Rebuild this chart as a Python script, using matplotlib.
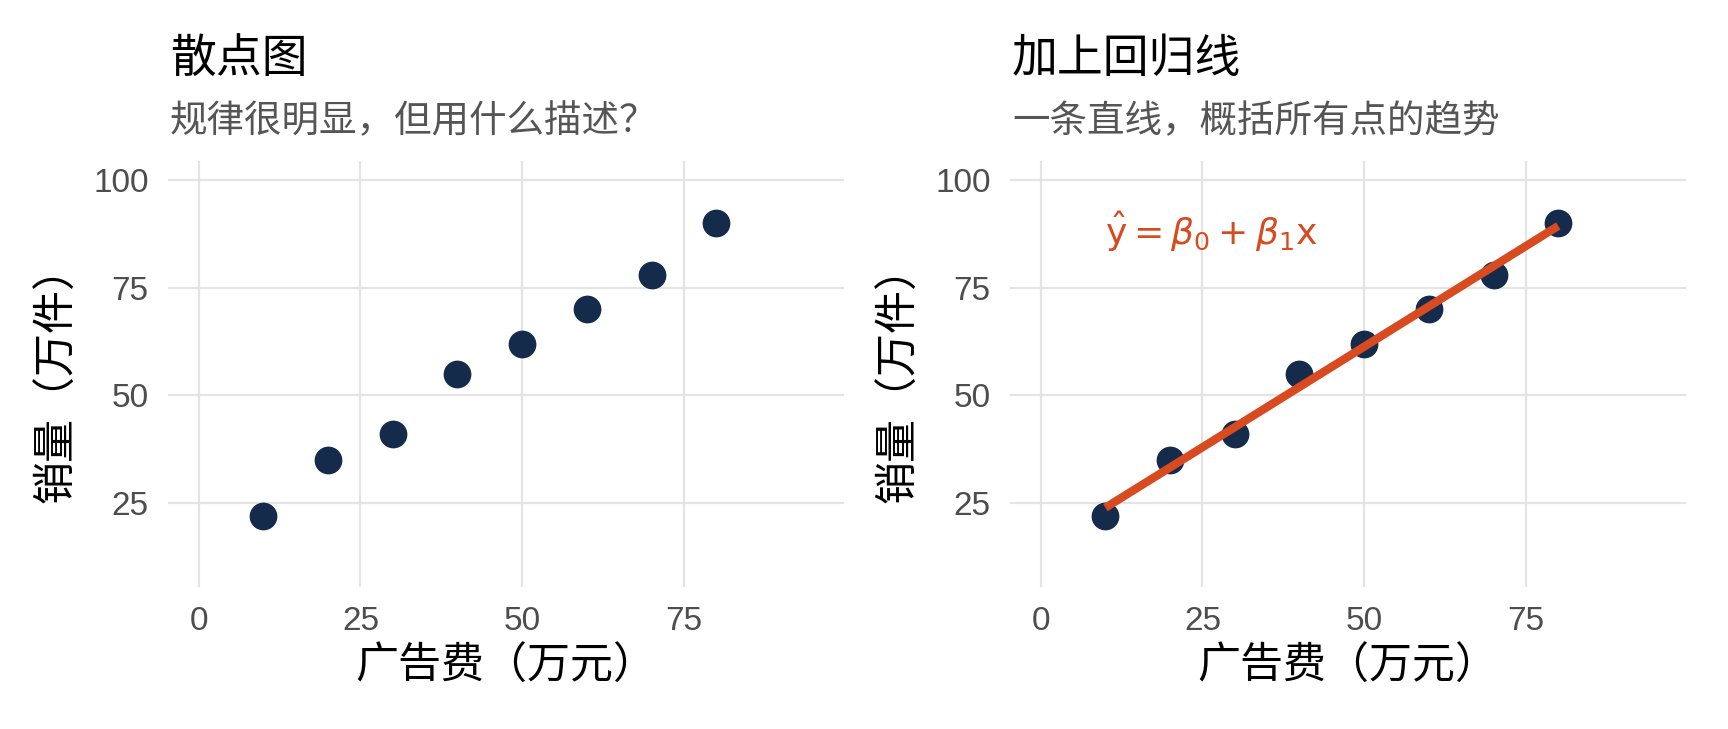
import numpy as np
import matplotlib
matplotlib.use("Agg")
import matplotlib.pyplot as plt

plt.rcParams['font.family'] = ['Liberation Sans', 'Noto Sans CJK SC', 'DejaVu Sans']
plt.rcParams['mathtext.fontset'] = 'dejavusans'

# ---- data ----
ad_spend = [10, 20, 30, 40, 50, 60, 70, 80]
sales = [22, 35, 41, 55, 62, 70, 78, 90]
x_ticks = [0, 25, 50, 75]
y_ticks = [25, 50, 75, 100]
titles = ["散点图", "加上回归线"]
subtitles = ["规律很明显，但用什么描述？", "一条直线，概括所有点的趋势"]
xlabel = "广告费（万元）"
ylabel = "销量（万件）"
formula = r"$\hat{\mathrm{y}} = \beta_0 + \beta_1\mathrm{x}$"

POINT_C = "#152B4B"
LINE_C = "#D84A1F"
GRID_C = "#E4E4E4"
TICK_C = "#4D4D4D"
SUB_C = "#555555"

W, H, DPI = 1728, 729, 200
fig = plt.figure(figsize=(W / DPI, H / DPI), dpi=DPI)

ax_bottom = 1 - 587 / H
ax_top = 1 - 160.6 / H
ax_h = ax_top - ax_bottom
lefts = [168 / W, 1010 / W]
ax_w = 676 / W

coef = np.polyfit(ad_spend, sales, 1)
xfit = np.array([min(ad_spend), max(ad_spend)])
yfit = np.polyval(coef, xfit)

for i, left in enumerate(lefts):
    ax = fig.add_axes([left, ax_bottom, ax_w, ax_h])
    ax.set_xlim(-4.75, 99.75)
    ax.set_ylim(5.5, 104.5)
    ax.set_xticks(x_ticks)
    ax.set_yticks(y_ticks)
    ax.grid(True, color=GRID_C, linewidth=0.8)
    ax.set_axisbelow(True)
    for s in ax.spines.values():
        s.set_visible(False)
    ax.tick_params(length=0, pad=7.0, labelsize=12, labelcolor=TICK_C)
    ax.scatter(ad_spend, sales, s=100, color=POINT_C, zorder=3, linewidths=0)
    if i == 1:
        ax.plot(xfit, yfit, color=LINE_C, linewidth=3.0, zorder=4,
                solid_capstyle='butt')
        ax.text(10, 85, formula, color=LINE_C, fontsize=13,
                ha='left', va='baseline')
    ax.set_xlabel(xlabel, fontsize=15.5, color='black')
    ax.set_ylabel(ylabel, fontsize=15.5, color='black')
    ax.xaxis.set_label_coords(0.5, (587 - 667) / (587 - 160.6))
    ax.xaxis.label.set_va('center')
    ax.yaxis.set_label_coords((58 - 168) / 676, 0.5)
    ax.yaxis.label.set_va('center')

    fig.text(left + 2 / W, 1 - 60 / H, titles[i], fontsize=16.5,
             color='black', ha='left', va='center')
    fig.text(left + 2 / W, 1 - 122 / H, subtitles[i], fontsize=13.5,
             color=SUB_C, ha='left', va='center')

fig.savefig("out.png", dpi=DPI, facecolor='white')
